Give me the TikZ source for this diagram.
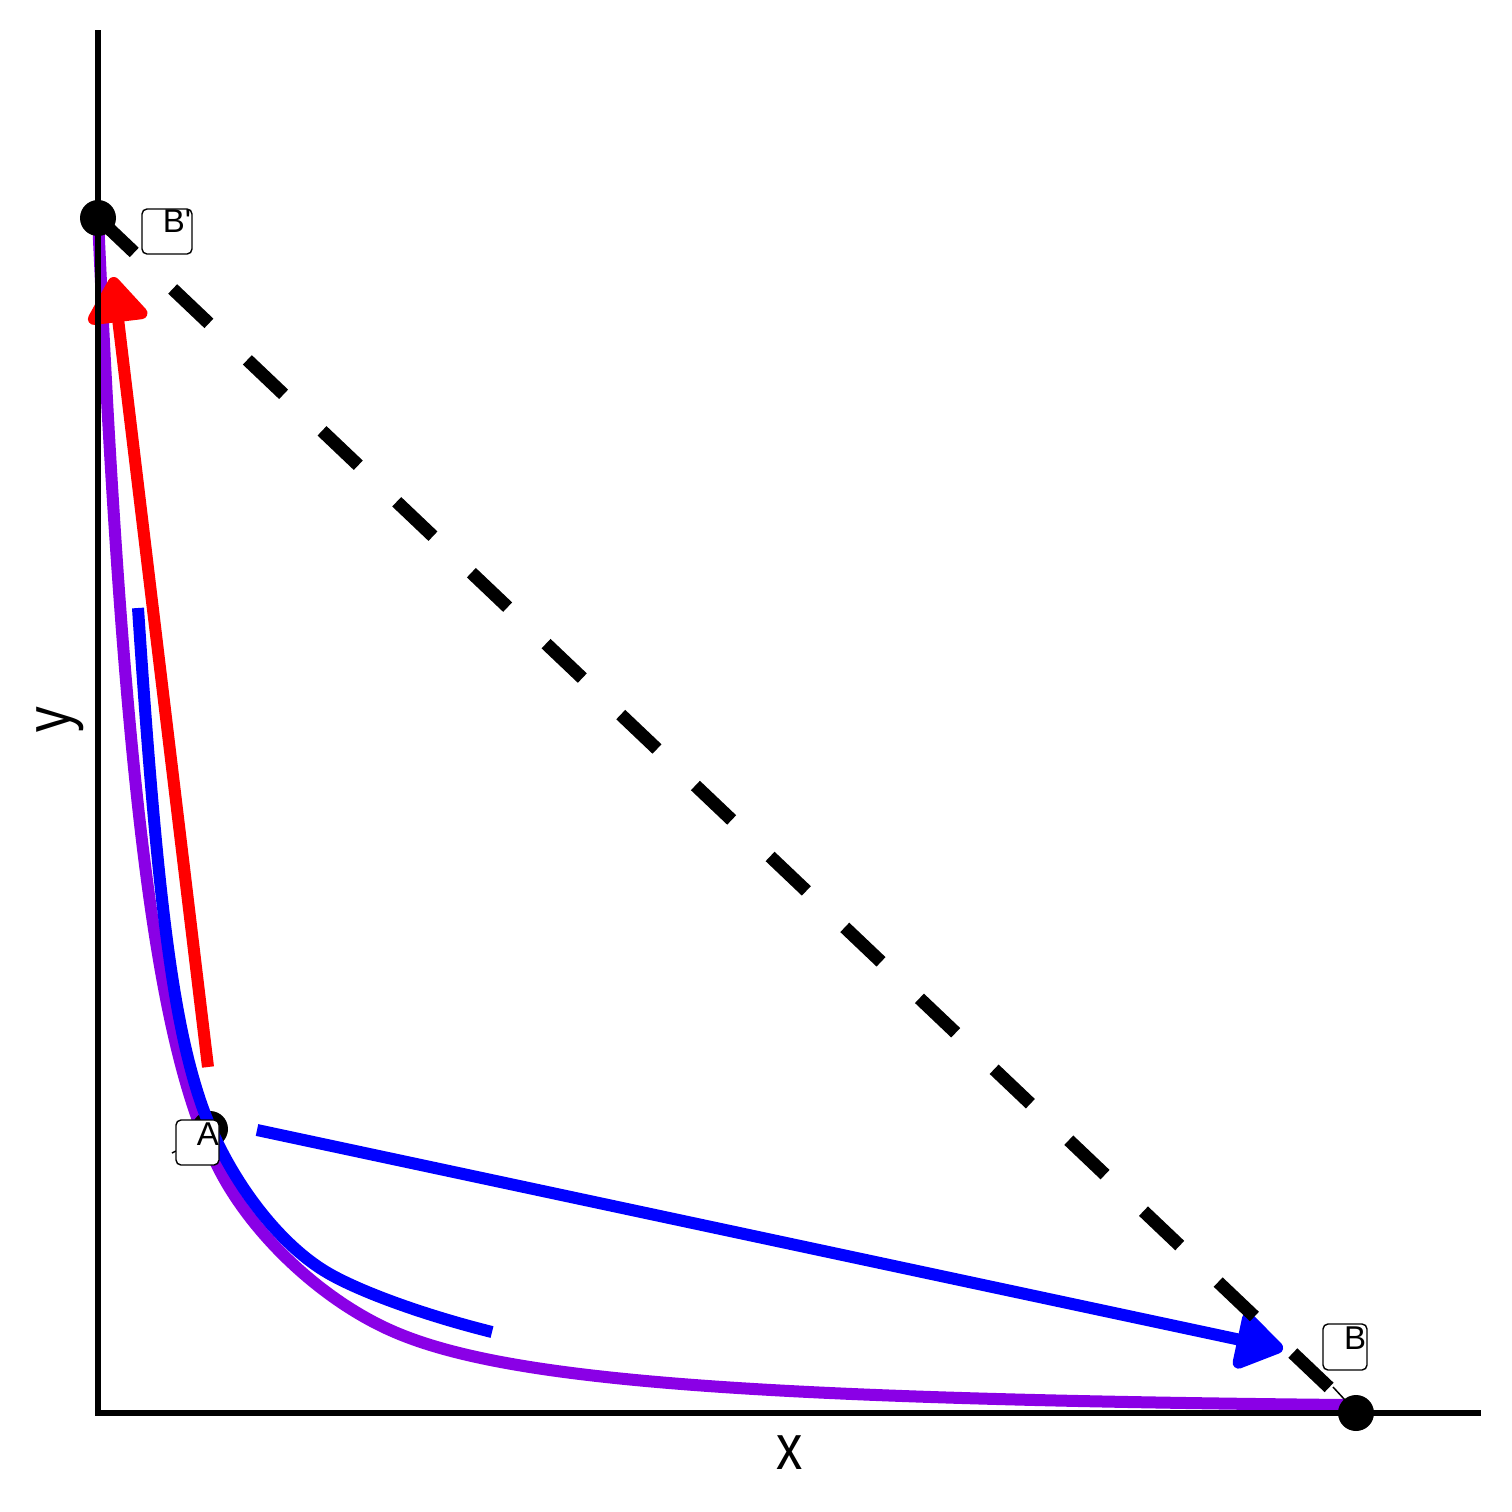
\documentclass[tikz,border=0pt]{standalone}
\usepackage{fontspec}
\setmainfont{Liberation Sans}
\usetikzlibrary{arrows.meta}
\definecolor{curvepurple}{RGB}{138,0,230}
\begin{document}
\begin{tikzpicture}[x=0.5pt,y=-0.5pt,
  curve/.style={line width=6pt},
  axisline/.style={line width=2.6pt, black},
  dot/.style={circle, fill=black, minimum size=18pt, inner sep=0pt},
  labbox/.style={draw=black, line width=0.7pt, rounded corners=2.5pt, fill=white, inner sep=0pt},
  labtext/.style={font=\fontsize{16.5}{19}\selectfont, inner sep=0pt},
  axlabel/.style={font=\fontsize{32}{36}\selectfont, inner sep=0pt},
  leader/.style={line width=0.75pt, black},
  arrowline/.style={line width=6pt}]
\useasboundingbox (0,0) rectangle (1512,1512);
\fill[white] (0,0) rectangle (1512,1512);

% indifference curve (purple)
\draw[curve, curvepurple] (98,218)
  .. controls (124.3,802.4) and (157.9,1049.4) .. (218,1167)
  .. controls (251.1,1233.2) and (319.9,1298.5) .. (390,1330)
  .. controls (501.6,1380.25) and (740.5,1399) .. (1345,1405);

% points
\node[dot] (A) at (210,1129) {};
\node[dot] (Bp) at (98,218) {};
\node[dot] (B) at (1356,1413) {};

% blue curve
\draw[curve, blue] (138,608)
  .. controls (156.9,894.5) and (172.4,1017.2) .. (200,1100)
  .. controls (223.4,1170.2) and (272.6,1238.2) .. (323,1270)
  .. controls (354.2,1289.7) and (421.8,1314.5) .. (492,1332);

% red arrow
\coordinate (rs) at (208,1067);
\coordinate (re) at (113,277);
\draw[arrowline, red, -{Triangle[length=25pt,width=34pt,round]}] (rs) -- (re);

% blue arrow
\coordinate (bs) at (257,1130);
\coordinate (be) at (1283,1349);
\draw[arrowline, blue, -{Triangle[length=26pt,width=32pt,round]}] (bs) -- (be);

% budget line (dashed)
\draw[line width=6.5pt, black, dash pattern=on 25pt off 26.5pt] (Bp.center) -- (B.center);

% axes
\coordinate (o) at (98,1413);
\coordinate (ytop) at (98,30);
\coordinate (xend) at (1481,1413);
\draw[axisline] (ytop) -- (o) -- (xend);

\node[axlabel] (xl) at (790,1453) {\scalebox{0.82}[1]{x}};
\node[axlabel, rotate=90] (yl) at (60,720) {\scalebox{0.8}[1]{y}};

% labels
\coordinate (la1) at (172,1153);
\coordinate (la2) at (176,1151);
\draw[leader] (la1) -- (la2);
\coordinate (lb1) at (1333,1387);
\coordinate (lb2) at (1345,1400);
\draw[leader] (lb1) -- (lb2);

\node[labbox, minimum width=25pt, minimum height=22.5pt] (boxBp) at (167,231.5) {};
\node[labtext] (tBp) at (177,221) {B\textquotesingle};
\node[labbox, minimum width=21.5pt, minimum height=22.5pt] (boxA) at (197.5,1142.5) {};
\node[labtext] (tA) at (208,1134) {A};
\node[labbox, minimum width=22pt, minimum height=23pt] (boxB) at (1345,1347) {};
\node[labtext] (tB) at (1355,1338) {B};
\end{tikzpicture}
\end{document}
